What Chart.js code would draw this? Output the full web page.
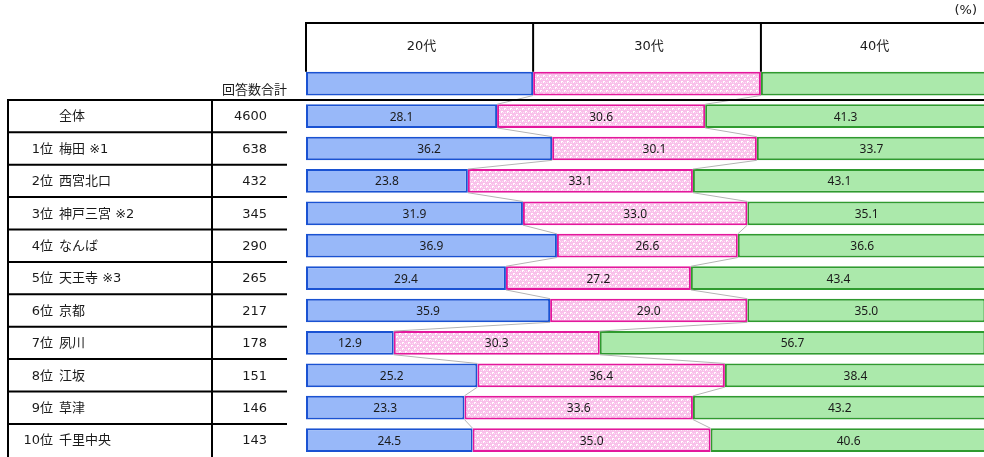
<!DOCTYPE html>
<html>
<head>
<meta charset="utf-8">
<script src="https://cdn.jsdelivr.net/npm/chart.js@4"></script>
<style>
html,body{margin:0;padding:0;background:#fff;overflow:hidden;width:984px;height:457px;}
canvas{display:block;}
</style>
</head>
<body>
<canvas id="c" width="990" height="457"></canvas>
<script>
// ---- data ----
const ranks = ['', '1位', '2位', '3位', '4位', '5位', '6位', '7位', '8位', '9位', '10位'];
const names = ['全体', '梅田 ※1', '西宮北口', '神戸三宮 ※2', 'なんば', '天王寺 ※3', '京都', '夙川', '江坂', '草津', '千里中央'];
const totals = [4600, 638, 432, 345, 290, 265, 217, 178, 151, 146, 143];
const age20 = [28.1, 36.2, 23.8, 31.9, 36.9, 29.4, 35.9, 12.9, 25.2, 23.3, 24.5];
const age30 = [30.6, 30.1, 33.1, 33.0, 26.6, 27.2, 29.0, 30.3, 36.4, 33.6, 35.0];
const age40 = [41.3, 33.7, 43.1, 35.1, 36.6, 43.4, 35.0, 56.7, 38.4, 43.2, 40.6];
const seriesNames = ['20代', '30代', '40代'];
const legendWidths = [33.4, 33.5, 33.1]; // header swatch row widths (%)
const totalHeader = '回答数合計';
const unitLabel = '(%)';

// ---- styles ----
const FONT = '"DejaVu Sans", "Noto Sans CJK JP", sans-serif';
const NUMFONT = '"Noto Sans", "DejaVu Sans", sans-serif';
function pinkPattern() {
  const p = document.createElement('canvas');
  p.width = 6; p.height = 6;
  const g = p.getContext('2d');
  g.fillStyle = '#f9c0ea';
  g.fillRect(0, 0, 6, 6);
  g.fillStyle = '#ffffff';
  g.fillRect(0, 0, 2, 1); g.fillRect(0, 0, 1, 2);
  g.fillRect(3, 3, 2, 1); g.fillRect(3, 3, 1, 2);
  g.fillStyle = '#fde0f4';
  g.fillRect(2, 1, 1, 1); g.fillRect(5, 4, 1, 1);
  g.fillRect(1, 4, 1, 1); g.fillRect(4, 1, 1, 1);
  return document.getElementById('c').getContext('2d').createPattern(p, 'repeat');
}
const fills = ['#98b8f9', pinkPattern(), '#abe9ab'];
const borders = ['#1a52d2', '#e3189c', '#2f9a2f'];

const labels = [''].concat(ranks.map((r, i) => (r ? r + ' ' : '') + names[i]));
const series = [age20, age30, age40];

const datasets = series.map((s, k) => ({
  label: seriesNames[k],
  data: [legendWidths[k]].concat(s),
  backgroundColor: fills[k],
  borderColor: borders[k],
  borderWidth: 2,
  borderSkipped: false,
  barPercentage: 0.73,
  categoryPercentage: 1.0
}));

const tablePlugin = {
  id: 'tablePlugin',
  afterDatasetsDraw(chart) {
    const ctx = chart.ctx;
    const xs = chart.scales.x, ys = chart.scales.y;
    const n = labels.length;
    const step = ys.getPixelForValue(1) - ys.getPixelForValue(0);
    const metas = [0, 1, 2].map(k => chart.getDatasetMeta(k));

    // connector lines between consecutive rows
    ctx.save();
    ctx.strokeStyle = '#b4b4b4';
    ctx.lineWidth = 1;
    for (let i = 0; i < n - 1; i++) {
      for (let k = 0; k < 2; k++) {
        const a = metas[k].data[i], b = metas[k].data[i + 1];
        ctx.beginPath();
        ctx.moveTo(a.x, a.y + a.height / 2);
        ctx.lineTo(b.x, b.y - b.height / 2);
        ctx.stroke();
      }
    }
    ctx.restore();

    // value labels inside bars
    ctx.save();
    ctx.fillStyle = '#1a1a1a';
    ctx.font = '12px ' + NUMFONT;
    ctx.textAlign = 'center';
    ctx.textBaseline = 'middle';
    for (let k = 0; k < 3; k++) {
      for (let i = 1; i < n; i++) {
        const el = metas[k].data[i];
        ctx.fillText(series[k][i - 1].toFixed(1), (el.x + el.base) / 2, el.y + 1);
      }
    }
    ctx.restore();

    // table
    ctx.save();
    ctx.strokeStyle = '#000';
    ctx.fillStyle = '#1a1a1a';
    ctx.lineWidth = 2;
    const left = xs.left;
    const topHeader = 23;
    const swatchTop = metas[0].data[0].y - metas[0].data[0].height / 2;
    const bounds = [xs.getPixelForValue(0)];
    let acc = 0;
    legendWidths.forEach(w => { acc += w; bounds.push(xs.getPixelForValue(acc)); });
    // header box
    ctx.beginPath();
    ctx.moveTo(left - 1, topHeader); ctx.lineTo(chart.width, topHeader);
    for (let k = 0; k < 3; k++) {
      ctx.moveTo(bounds[k], topHeader); ctx.lineTo(bounds[k], swatchTop);
    }
    ctx.stroke();
    ctx.font = '13px ' + FONT;
    ctx.textAlign = 'center';
    ctx.textBaseline = 'middle';
    for (let k = 0; k < 3; k++) {
      const right = k === 2 ? 984 : bounds[k + 1];
      ctx.fillText(seriesNames[k], (bounds[k] + right) / 2 + 2, 47);
    }
    ctx.textAlign = 'right';
    ctx.fillText(unitLabel, 977, 11);
    ctx.fillText(totalHeader, 287, 91);

    // grid of left table
    const tableTop = ys.getPixelForValue(0) + step / 2;
    ctx.beginPath();
    ctx.moveTo(7, tableTop); ctx.lineTo(chart.width, tableTop);
    ctx.moveTo(8, tableTop); ctx.lineTo(8, chart.height);
    ctx.moveTo(212, tableTop); ctx.lineTo(212, chart.height);
    for (let i = 1; i < n - 1; i++) {
      const y = ys.getPixelForValue(i) + step / 2;
      ctx.moveTo(8, y); ctx.lineTo(287, y);
    }
    ctx.stroke();

    // row texts
    for (let i = 1; i < n; i++) {
      const y = ys.getPixelForValue(i) + 1;
      ctx.textAlign = 'right';
      if (ranks[i - 1]) ctx.fillText(ranks[i - 1], 53, y);
      ctx.fillText(String(totals[i - 1]), 267, y);
      ctx.textAlign = 'left';
      ctx.fillText(names[i - 1], 59, y);
    }
    ctx.restore();
  }
};

new Chart(document.getElementById('c'), {
  type: 'bar',
  data: { labels: labels, datasets: datasets },
  options: {
    indexAxis: 'y',
    responsive: false,
    animation: false,
    layout: { padding: { left: 306, right: 4, top: 67.5, bottom: 0.7 } },
    scales: {
      x: { stacked: true, min: 0, max: 100, display: false },
      y: { stacked: true, display: false }
    },
    plugins: { legend: { display: false }, tooltip: { enabled: false } }
  },
  plugins: [tablePlugin]
});
</script>
</body>
</html>
